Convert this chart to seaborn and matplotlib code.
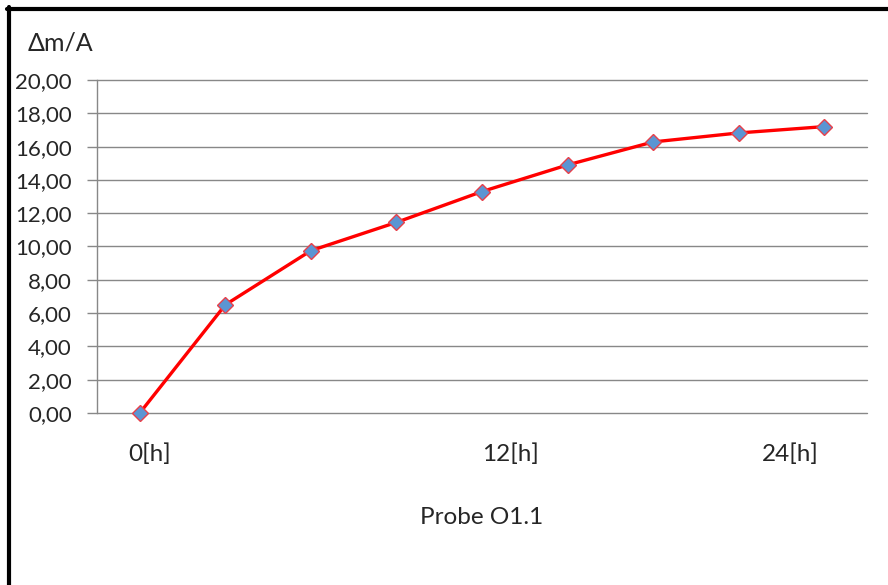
import matplotlib
matplotlib.use("Agg")
import matplotlib.pyplot as plt
from matplotlib.lines import Line2D
import pandas as pd
import seaborn as sns

# ─── Data ─────────────────────────────────────────────────────────────────────
hours = [0, 3, 6, 9, 12, 15, 18, 21, 24]
dm_a = [0.00, 6.50, 9.75, 11.45, 13.30, 14.90, 16.28, 16.82, 17.20]
y_ticks = [0, 2, 4, 6, 8, 10, 12, 14, 16, 18, 20]
x_tick_labels = ["0[h]", "12[h]", "24[h]"]
x_tick_hours = [0.35, 13.0, 22.8]   # label anchors as placed in the original sheet

df = pd.DataFrame({"h": hours, "dm": dm_a})

sns.set_style("white")
plt.rcParams["font.family"] = ["Lato", "DejaVu Sans"]

fig = plt.figure(figsize=(8.88, 5.85), dpi=100)
ax = fig.add_axes([97 / 888, 1 - 413 / 585, 770 / 888, 333 / 585])

sns.lineplot(
    data=df, x="h", y="dm", ax=ax,
    color="#FF0000", lw=2.4,
    marker="D", markersize=8,
    markerfacecolor="#5B95D3", markeredgecolor="#E8404A", markeredgewidth=1,
    clip_on=False, zorder=5,
)

ax.set_xlim(-1.5, 25.5)
ax.set_ylim(0, 20)
ax.set_yticks(y_ticks)
ax.set_yticklabels([f"{v:.2f}".replace(".", ",") for v in y_ticks], fontsize=16)
ax.set_xticks(x_tick_hours)
ax.set_xticklabels(x_tick_labels, fontsize=17.5)
ax.tick_params(axis="x", length=0, pad=22)
ax.tick_params(axis="y", left=True, length=7, width=1, color="#888888", pad=11, direction="out")

ax.grid(axis="y", color="#888888", lw=1)
for gl in ax.get_ygridlines():
    gl.set_clip_on(False)
ax.set_axisbelow(True)
for side in ["top", "right", "bottom"]:
    ax.spines[side].set_visible(False)
ax.spines["left"].set_color("#888888")
ax.spines["left"].set_linewidth(1)

ax.set_xlabel("Probe O1.1", fontsize=17.5, labelpad=30)
ax.set_ylabel("")
fig.text(28 / 888, 1 - 43 / 585, "Δm/A", fontsize=18, va="center", ha="left")

# black frame (top and left only)
fig.add_artist(Line2D([7 / 888, 1], [1 - 9 / 585, 1 - 9 / 585], color="black", lw=3,
                      transform=fig.transFigure))
fig.add_artist(Line2D([9 / 888, 9 / 888], [0, 1 - 7 / 585], color="black", lw=3,
                      transform=fig.transFigure))

fig.savefig("out.png", dpi=100)
